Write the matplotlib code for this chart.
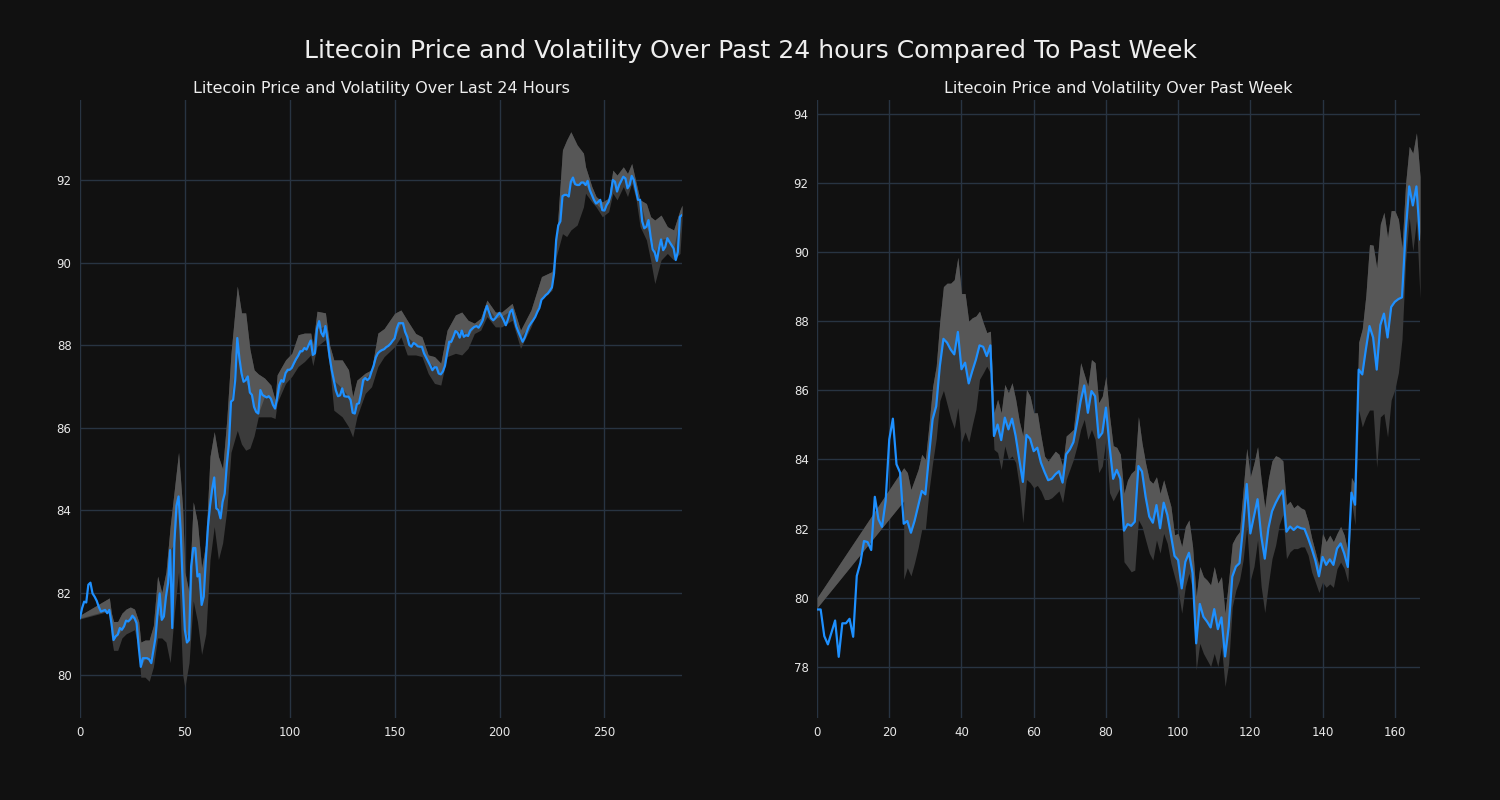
import matplotlib.pyplot as plt
import numpy as np

# price readings, 5-minute steps over the last 24 hours (288 points)
price_24h = [
    81.38, 81.62, 81.78, 81.76, 82.19, 82.24, 81.98, 81.90, 81.80, 81.65,
    81.54, 81.56, 81.58, 81.50, 81.58, 81.26, 80.85, 80.94, 80.98, 81.14,
    81.10, 81.18, 81.32, 81.30, 81.35, 81.44, 81.38, 81.26, 80.69, 80.20,
    80.41, 80.41, 80.41, 80.38, 80.29, 80.60, 80.90, 81.50, 81.98, 81.34,
    81.42, 81.90, 82.23, 83.03, 81.14, 83.20, 84.10, 84.33, 83.50, 82.20,
    81.10, 80.79, 80.85, 82.63, 83.08, 83.08, 82.39, 82.45, 81.70, 81.90,
    82.79, 83.60, 84.10, 84.50, 84.79, 84.04, 84.00, 83.80, 84.20, 84.40,
    85.10, 85.60, 86.63, 86.67, 87.15, 88.17, 87.68, 87.32, 87.11, 87.15,
    87.24, 86.85, 86.79, 86.50, 86.38, 86.34, 86.91, 86.79, 86.76, 86.73,
    86.76, 86.70, 86.55, 86.46, 86.71, 87.03, 87.15, 87.11, 87.32, 87.40,
    87.40, 87.45, 87.56, 87.66, 87.74, 87.85, 87.85, 87.93, 87.89, 88.00,
    88.11, 87.76, 87.80, 88.40, 88.58, 88.30, 88.21, 88.46, 88.13, 87.72,
    87.40, 87.15, 86.90, 86.76, 86.78, 86.95, 86.76, 86.75, 86.75, 86.67,
    86.36, 86.34, 86.57, 86.59, 86.83, 87.15, 87.20, 87.15, 87.20, 87.36,
    87.50, 87.70, 87.80, 87.85, 87.88, 87.90, 87.95, 87.98, 88.03, 88.10,
    88.16, 88.40, 88.53, 88.53, 88.53, 88.32, 88.20, 88.00, 87.96, 88.05,
    88.02, 87.97, 87.96, 87.96, 87.80, 87.70, 87.60, 87.50, 87.39, 87.46,
    87.46, 87.31, 87.29, 87.36, 87.50, 87.80, 88.08, 88.08, 88.20, 88.34,
    88.30, 88.18, 88.35, 88.20, 88.24, 88.22, 88.35, 88.40, 88.44, 88.46,
    88.42, 88.50, 88.60, 88.80, 88.95, 88.80, 88.65, 88.60, 88.65, 88.72,
    88.78, 88.70, 88.60, 88.48, 88.62, 88.80, 88.86, 88.65, 88.45, 88.32,
    88.20, 88.08, 88.18, 88.32, 88.45, 88.53, 88.60, 88.68, 88.80, 88.90,
    89.10, 89.15, 89.21, 89.25, 89.32, 89.40, 89.74, 90.55, 90.90, 91.00,
    91.61, 91.64, 91.64, 91.60, 91.96, 92.06, 91.90, 91.88, 91.88, 91.94,
    91.94, 91.88, 91.98, 91.76, 91.64, 91.52, 91.43, 91.47, 91.52, 91.27,
    91.26, 91.39, 91.47, 91.65, 92.00, 91.96, 91.72, 91.88, 91.98, 92.08,
    92.04, 91.80, 91.88, 92.10, 92.00, 91.76, 91.52, 91.52, 91.00, 90.83,
    90.87, 91.03, 90.63, 90.32, 90.24, 90.04, 90.34, 90.56, 90.30, 90.38,
    90.59, 90.50, 90.42, 90.34, 90.06, 90.26, 91.11, 91.15,
]

# volatility band for the 24h chart (index, lower, upper)
band_24h_x = [0, 14, 15, 16, 18, 20, 22, 24, 26, 28, 29, 31, 33, 35, 37, 39, 41, 43,
              45, 47, 49, 50, 52, 54, 56, 58, 60, 62, 64, 66, 68, 70, 72, 75, 77, 79,
              81, 83, 85, 88, 91, 93, 94, 98, 101, 104, 107, 110, 111, 113, 117, 119,
              121, 125, 128, 130, 132, 136, 139, 142, 145, 150, 153, 156, 160, 163,
              166, 169, 172, 175, 179, 182, 185, 188, 191, 194, 198, 201, 206, 210,
              215, 220, 225, 227, 230, 232, 234, 237, 240, 241, 244, 246, 249, 252,
              254, 256, 259, 261, 263, 265, 267, 270, 272, 274, 277, 280, 283, 286, 287]
band_24h_lo = [81.36, 81.55, 80.90, 80.60, 80.60, 80.90, 81.00, 81.05, 81.10, 80.60,
               79.95, 79.95, 79.85, 80.20, 80.90, 80.90, 80.80, 80.30, 81.50, 82.50,
               80.00, 79.70, 80.30, 81.80, 81.30, 80.50, 81.00, 82.80, 83.60, 82.80,
               83.20, 84.00, 85.40, 85.93, 85.60, 85.45, 85.50, 85.80, 86.26, 86.26,
               86.26, 86.22, 86.60, 87.07, 87.24, 87.48, 87.60, 87.76, 87.50, 87.97,
               88.13, 87.48, 86.42, 86.26, 86.02, 85.77, 86.26, 86.83, 86.99, 87.48,
               87.72, 87.96, 88.20, 87.76, 87.76, 87.72, 87.31, 87.07, 87.03, 87.72,
               87.80, 87.76, 87.92, 88.28, 88.36, 88.69, 88.44, 88.44, 88.60, 87.92,
               88.44, 89.10, 89.33, 90.14, 90.70, 90.63, 90.79, 90.91, 91.35, 91.68,
               91.47, 91.35, 91.11, 91.23, 91.68, 91.52, 91.84, 91.60, 91.92, 91.56,
               90.87, 90.55, 90.06, 89.49, 90.06, 90.22, 90.06, 90.22, 91.03]
band_24h_hi = [81.45, 81.87, 81.50, 81.30, 81.30, 81.50, 81.60, 81.65, 81.60, 81.30,
               80.80, 80.85, 80.85, 81.20, 82.40, 82.00, 82.50, 83.60, 84.50, 85.40,
               84.00, 82.50, 82.00, 84.20, 83.70, 82.60, 83.20, 85.30, 85.90, 85.30,
               85.00, 86.20, 87.80, 89.43, 88.78, 88.78, 87.90, 87.40, 87.30, 87.20,
               87.03, 86.67, 87.28, 87.64, 87.80, 88.25, 88.29, 88.29, 88.00, 88.82,
               88.78, 88.00, 87.64, 87.64, 87.40, 86.75, 87.15, 87.32, 87.40, 88.29,
               88.40, 88.77, 88.85, 88.60, 88.28, 88.20, 87.76, 87.72, 87.56, 88.36,
               88.73, 88.80, 88.60, 88.53, 88.65, 89.09, 88.80, 88.80, 89.01, 88.36,
               88.85, 89.66, 89.78, 90.46, 92.73, 92.97, 93.17, 92.85, 92.65, 92.32,
               91.84, 91.60, 91.47, 91.56, 92.24, 92.12, 92.32, 92.16, 92.40, 91.96,
               91.52, 91.43, 91.11, 91.03, 91.15, 90.87, 90.79, 91.27, 91.39]

# hourly price readings over the past week (168 points)
price_week = [
    79.66, 79.66, 78.89, 78.65, 78.99, 79.34, 78.29, 79.26, 79.26, 79.39,
    78.87, 80.63, 81.01, 81.64, 81.61, 81.38, 82.92, 82.27, 82.05, 82.80,
    84.58, 85.18, 83.86, 83.62, 82.14, 82.22, 81.88, 82.22, 82.65, 83.09,
    82.99, 84.10, 85.16, 85.54, 86.70, 87.49, 87.38, 87.18, 87.04, 87.69,
    86.61, 86.80, 86.20, 86.56, 86.89, 87.30, 87.26, 86.99, 87.30, 84.68,
    85.01, 84.56, 85.21, 84.87, 85.18, 84.68, 84.00, 83.35, 84.71, 84.60,
    84.24, 84.34, 83.91, 83.64, 83.40, 83.44, 83.57, 83.66, 83.33, 84.15,
    84.29, 84.50, 85.06, 85.69, 86.14, 85.35, 85.98, 85.83, 84.63, 84.77,
    85.50, 84.39, 83.44, 83.70, 83.44, 81.94, 82.13, 82.08, 82.20, 83.81,
    83.65, 82.92, 82.35, 82.17, 82.68, 82.01, 82.75, 82.40, 81.82, 81.21,
    81.09, 80.27, 81.04, 81.30, 80.71, 78.68, 79.82, 79.45, 79.31, 79.14,
    79.67, 79.09, 79.43, 78.30, 79.16, 80.61, 80.90, 81.00, 82.06, 83.29,
    81.86, 82.35, 82.85, 81.79, 81.13, 82.01, 82.50, 82.74, 82.94, 83.10,
    81.91, 82.06, 81.96, 82.06, 82.01, 81.99, 81.72, 81.42, 81.08, 80.62,
    81.18, 80.95, 81.11, 80.95, 81.42, 81.57, 81.28, 80.89, 83.04, 82.69,
    86.60, 86.46, 87.19, 87.86, 87.53, 86.60, 87.89, 88.22, 87.53, 88.41,
    88.56, 88.64, 88.69, 90.56, 91.90, 91.35, 91.90, 90.37,
]

# volatility band for the week chart
band_week_x = [0, 24] + list(range(24, 168))
band_week_lo = [79.71, 82.80,
    80.53, 80.87, 80.63, 81.01, 81.45, 81.98, 81.98, 83.10, 83.90, 84.60,
    85.70, 86.00, 85.60, 85.20, 84.90, 85.50, 84.50, 84.80, 84.50, 85.00,
    85.45, 86.32, 86.50, 86.70, 86.50, 84.29, 84.20, 83.71, 84.39, 84.00,
    84.10, 83.91, 83.23, 82.17, 83.42, 83.33, 83.18, 83.25, 83.09, 82.84,
    82.84, 82.89, 82.99, 83.09, 82.75, 83.42, 83.71, 84.00, 84.39, 84.87,
    85.16, 84.58, 84.87, 84.58, 83.62, 83.81, 84.58, 83.04, 82.80, 83.00,
    83.20, 81.04, 80.90, 80.75, 80.80, 82.25, 82.06, 81.67, 81.29, 81.09,
    81.67, 81.29, 81.86, 81.57, 81.00, 80.61, 80.22, 79.55, 80.32, 80.71,
    80.22, 77.91, 78.68, 78.39, 78.20, 78.01, 78.39, 78.01, 78.59, 77.43,
    78.10, 79.74, 80.22, 80.51, 81.09, 82.06, 80.51, 80.90, 81.67, 80.32,
    79.57, 80.40, 81.13, 81.52, 82.11, 82.40, 81.13, 81.33, 81.42, 81.42,
    81.47, 81.47, 81.23, 80.74, 80.45, 80.15, 80.45, 80.30, 80.40, 80.30,
    80.84, 81.03, 80.84, 80.45, 82.79, 82.11, 85.43, 84.94, 85.23, 85.43,
    85.43, 83.77, 85.23, 85.33, 84.65, 85.72, 86.02, 86.51, 87.48, 89.73,
    91.00, 90.03, 90.91, 88.66]
band_week_hi = [80.00, 83.76,
    83.76, 83.62, 83.13, 83.42, 83.71, 84.15, 84.00, 85.00, 86.10, 86.70,
    88.00, 89.00, 89.10, 89.10, 89.20, 89.85, 88.80, 88.80, 88.00, 88.10,
    88.15, 88.29, 87.96, 87.67, 87.71, 85.35, 85.74, 85.35, 86.17, 85.93,
    86.22, 85.74, 85.11, 84.68, 86.03, 85.83, 85.35, 85.35, 84.68, 84.10,
    83.95, 84.10, 84.24, 84.15, 83.81, 84.68, 84.77, 84.87, 85.83, 86.80,
    86.46, 86.12, 86.89, 86.80, 85.64, 85.83, 86.41, 85.26, 84.40, 84.35,
    84.15, 83.02, 83.41, 83.60, 83.70, 85.24, 84.47, 83.89, 83.41, 83.31,
    83.50, 83.02, 83.41, 83.02, 82.64, 81.82, 81.86, 81.48, 82.06, 82.25,
    81.48, 80.03, 80.90, 80.61, 80.51, 80.37, 80.90, 80.42, 80.61, 79.55,
    80.51, 81.57, 81.77, 81.91, 83.12, 84.32, 83.50, 83.89, 84.37, 83.41,
    82.60, 83.45, 83.96, 84.11, 84.06, 83.96, 82.69, 82.79, 82.60, 82.69,
    82.60, 82.55, 82.21, 81.72, 81.33, 80.93, 81.86, 81.62, 81.81, 81.62,
    81.86, 82.06, 81.81, 81.33, 83.48, 83.28, 87.39, 87.78, 88.75, 90.22,
    90.20, 89.54, 90.81, 91.15, 90.42, 91.20, 91.20, 90.95, 90.12, 91.98,
    93.06, 92.86, 93.45, 92.18]

bg = '#111111'
grid_col = '#283442'
line_col = '#1e90ff'

fig = plt.figure(figsize=(15, 8), dpi=100, facecolor=bg)
ax1 = fig.add_axes([0.0533, 0.1025, 0.4014, 0.7725])
ax2 = fig.add_axes([0.5447, 0.1025, 0.4020, 0.7725])


def draw_panel(ax, price, bx, blo, bhi, title, xlim, ylim, xticks, yticks):
    ax.set_facecolor(bg)
    price = np.array(price)
    x = np.arange(len(price))
    bx = np.array(bx)
    blo = np.array(blo)
    bhi = np.array(bhi)
    # darker part of the band, lighter part above the price
    ax.fill_between(bx, blo, bhi, color='#3b3b3b', lw=0, zorder=1)
    mid = np.clip(price[bx], blo, bhi)
    ax.fill_between(bx, mid, bhi, color='#575757', lw=0, zorder=1)
    ax.plot(x, price, color=line_col, lw=1.6, zorder=3)
    ax.set_xlim(*xlim)
    ax.set_ylim(*ylim)
    ax.set_xticks(xticks)
    ax.set_yticks(yticks)
    ax.grid(True, color=grid_col, lw=1, zorder=0)
    ax.set_axisbelow(True)
    for s in ax.spines.values():
        s.set_visible(False)
    ax.tick_params(length=0, colors='#e8e8e8', labelsize=8.5, pad=6)
    ax.set_title(title, color='#eeeeee', fontsize=11.5, pad=5)


draw_panel(ax1, price_24h, band_24h_x, band_24h_lo, band_24h_hi,
           'Litecoin Price and Volatility Over Last 24 Hours',
           (0, 287), (78.96, 93.94), range(0, 300, 50), range(80, 93, 2))
draw_panel(ax2, price_week, band_week_x, band_week_lo, band_week_hi,
           'Litecoin Price and Volatility Over Past Week',
           (0, 167), (76.52, 94.40), range(0, 161, 20), range(78, 95, 2))

fig.suptitle('Litecoin Price and Volatility Over Past 24 hours Compared To Past Week',
             color='#eeeeee', fontsize=18, y=0.951)

fig.savefig('out.png', facecolor=bg)
